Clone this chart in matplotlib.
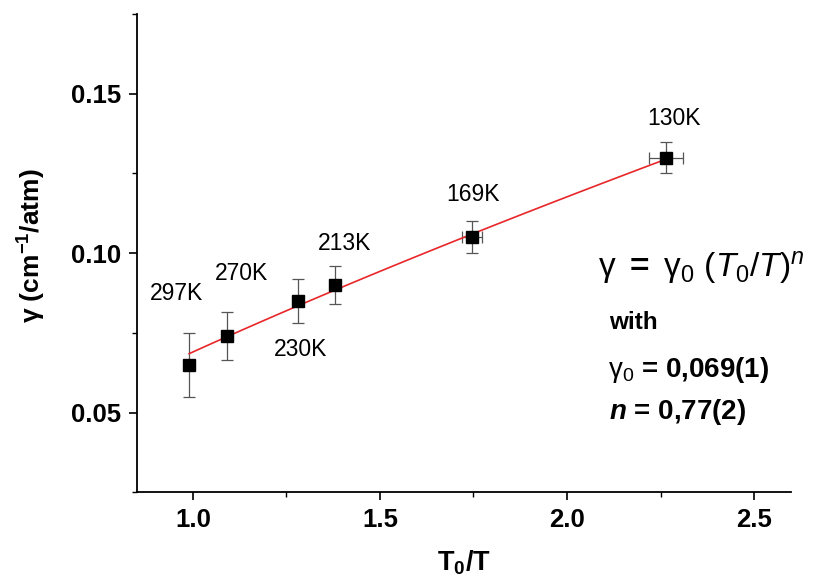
import matplotlib
matplotlib.use("Agg")
import matplotlib.pyplot as plt
import numpy as np
from matplotlib.ticker import MultipleLocator

plt.rcParams['font.family'] = ['Liberation Sans', 'DejaVu Sans']
plt.rcParams['mathtext.fontset'] = 'custom'
plt.rcParams['mathtext.rm'] = 'Liberation Sans'
plt.rcParams['mathtext.it'] = 'Liberation Sans:italic'
plt.rcParams['mathtext.bf'] = 'Liberation Sans:bold'
plt.rcParams['mathtext.bfit'] = 'Liberation Sans:italic:bold'

# measured broadening coefficients vs reduced inverse temperature
temps = ["297K", "270K", "230K", "213K", "169K", "130K"]
t_ratio = [0.99, 1.09, 1.28, 1.38, 1.745, 2.265]
t_ratio_err = [0.0, 0.0, 0.012, 0.012, 0.027, 0.045]
gamma = [0.065, 0.074, 0.085, 0.090, 0.105, 0.130]
gamma_err = [0.010, 0.0075, 0.0068, 0.006, 0.005, 0.005]

# power-law fit result
gamma0 = 0.069
n_exp = 0.77

# label offsets (points) for the temperature tags
label_offsets = [(-9, 51), (11, 45), (2, -35), (7, 30), (1, 31), (6, 28)]

fig = plt.figure(figsize=(8.34, 5.86), dpi=100)
ax = fig.add_axes([0.164, 0.16, 0.785, 0.816])

xfit = np.linspace(min(t_ratio), max(t_ratio), 100)
ax.plot(xfit, gamma0 * xfit ** n_exp, color='#e8262a', lw=1.2, zorder=2)

ax.errorbar(t_ratio, gamma, yerr=gamma_err, xerr=t_ratio_err, fmt='none',
            ecolor='#555555', elinewidth=0.9, capsize=4, capthick=0.9, zorder=1)
ax.plot(t_ratio, gamma, 's', color='black', ms=8, zorder=3)

for lab, x, y, off in zip(temps, t_ratio, gamma, label_offsets):
    ax.annotate(lab, (x, y), xytext=off, textcoords='offset points',
                ha='center', va='center', fontsize=16.5)

ax.set_xlim(0.85, 2.6)
ax.set_ylim(0.025, 0.175)
ax.xaxis.set_major_locator(MultipleLocator(0.5))
ax.xaxis.set_minor_locator(MultipleLocator(0.25))
ax.yaxis.set_major_locator(MultipleLocator(0.05))
ax.yaxis.set_minor_locator(MultipleLocator(0.025))
ax.xaxis.set_major_formatter(plt.FormatStrFormatter('%.1f'))
ax.yaxis.set_major_formatter(plt.FormatStrFormatter('%.2f'))

for side in ('top', 'right'):
    ax.spines[side].set_visible(False)
for side in ('left', 'bottom'):
    ax.spines[side].set_linewidth(1.3)

ax.tick_params(which='major', direction='out', length=6, width=1.2, labelsize=18.5, pad=5)
ax.tick_params(which='minor', direction='out', length=3.5, width=1.0)
for t in ax.get_xticklabels() + ax.get_yticklabels():
    t.set_fontweight('bold')

ax.set_xlabel(r"T$_{\mathbf{0}}$/T", fontsize=19.5, fontweight='bold', labelpad=12)
ax.set_ylabel(r"γ (cm$^{\mathbf{-1}}$/atm)", fontsize=19, fontweight='bold')
ax.yaxis.set_label_coords(-0.135, 0.515)

ax.text(0.704, 0.47, r"$\mathrm{\gamma}\ \mathbf{=}\ \mathrm{\gamma}_0\ (\mathit{T}_{\mathit{0}}/\mathit{T})^{\mathit{n}}$",
        transform=ax.transAxes, fontsize=24, ha='left', va='center')
ax.text(0.722, 0.356, "with", transform=ax.transAxes, fontsize=17.5,
        fontweight='bold', ha='left', va='center')
ax.text(0.72, 0.255, r"$\mathrm{\gamma}_0$ = 0,069(1)", transform=ax.transAxes,
        fontsize=20, fontweight='bold', ha='left', va='center')
ax.text(0.722, 0.168, r"$\mathbfit{n}$ = 0,77(2)", transform=ax.transAxes,
        fontsize=20, fontweight='bold', ha='left', va='center')

fig.savefig("out.png", dpi=100)
